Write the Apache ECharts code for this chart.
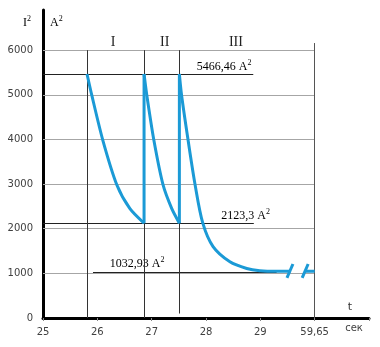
<!DOCTYPE html>
<html>
<head>
<meta charset="utf-8">
<script src="https://cdn.jsdelivr.net/npm/echarts@6/dist/echarts.min.js"></script>
<style>
html, body { margin: 0; padding: 0; background: #fff; }
#chart { width: 380px; height: 347px; }
</style>
</head>
<body>
<div id="chart"></div>
<script>
// Time axis: positions 25..29 are seconds, position 30 stands for 59,65 s
const tickValues = [25, 26, 27, 28, 29, 30];
const tickLabels = ['25', '26', '27', '28', '29', '59,65'];
const gridLevels = [1000, 2000, 3000, 4000, 5000, 6000];

// Reference levels of I², A²
const peakLevel = 5466.46;
const troughLevel = 2123.3;
const steadyLevel = 1032.93;
const peakText = '5466,46';
const troughText = '2123,3';
const steadyText = '1032,93';

// Stage boundaries (s) and names
const stageBounds = [25.81, 26.86, 27.51, 30];
const stageNames = ['I', 'II', 'III'];
const stageNamePos = [26.29, 27.24, 28.55];

// Decay curves, [t, I²]
const stage1 = [[25.81, 5466.46], [25.9, 4980], [26.1, 3987], [26.36, 2980], [26.6, 2450], [26.86, 2123.3]];
const stage2 = [[26.86, 5466.46], [26.91, 4996], [27.04, 3987], [27.21, 2980], [27.37, 2450], [27.51, 2123.3]];
const stage3 = [[27.51, 5466.46], [27.55, 4996], [27.67, 3987], [27.8, 2980], [27.94, 2130], [28.13, 1600], [28.44, 1260], [28.75, 1110], [28.99, 1060], [29.3, 1046], [29.55, 1046]];
const tail = [[29.82, 1046], [30, 1046]];
// Jumps back to peak at the start of stages II and III
const jump1 = [[26.86, 2123.3], [26.86, 5466.46]];
const jump2 = [[27.51, 2123.3], [27.51, 5466.46]];
// Axis-break marks on the curve
const break1 = [[29.49, 900], [29.6, 1210]];
const break2 = [[29.77, 900], [29.88, 1210]];

const curveColor = '#1b9ad6';
const serif = '"Liberation Serif", "DejaVu Serif", serif';
const sans = '"DejaVu Sans", "Liberation Sans", sans-serif';

function seg(a, b, color, width) {
  return [{ coord: a, lineStyle: { color: color, width: width, type: 'solid' } }, { coord: b }];
}

const markSegments = [];
gridLevels.forEach(v => markSegments.push(seg([25, v], [30, v], '#a6a6a6', 1)));
markSegments.push(seg([25, peakLevel], [28.87, peakLevel], '#222', 1));
markSegments.push(seg([25, troughLevel], [28.88, troughLevel], '#222', 1));
markSegments.push(seg([25.92, steadyLevel], [29.3, steadyLevel], '#222', 1));
markSegments.push(seg([stageBounds[0], 0], [stageBounds[0], 6000], '#333', 1));
markSegments.push(seg([stageBounds[1], 0], [stageBounds[1], 6000], '#333', 1));
markSegments.push(seg([stageBounds[2], 100], [stageBounds[2], 6000], '#333', 1));
markSegments.push(seg([stageBounds[3], 0], [stageBounds[3], 6160], '#555', 1));

function curve(data, smooth) {
  return {
    type: 'line', data: data, symbol: 'none', smooth: smooth || false,
    silent: true,
    lineStyle: { color: curveColor, width: 3 }, z: 5
  };
}

const chart = echarts.init(document.getElementById('chart'), null, { renderer: 'canvas' });
chart.setOption({
  animation: false,
  grid: { left: 43, right: 11, top: 10, bottom: 29, containLabel: false },
  xAxis: {
    type: 'value', min: 25, max: 31, interval: 1,
    axisLine: { lineStyle: { color: '#000', width: 3 } },
    axisTick: { show: true, length: 3, lineStyle: { color: '#888', width: 1 } },
    splitLine: { show: false },
    axisLabel: {
      margin: 9, color: '#404040', fontFamily: sans, fontSize: 10,
      formatter: v => { const i = tickValues.indexOf(v); return i >= 0 ? tickLabels[i] : ''; }
    }
  },
  yAxis: {
    type: 'value', min: 0, max: 6900, interval: 1000,
    axisLine: { show: true, lineStyle: { color: '#000', width: 3 } },
    axisTick: { show: false },
    splitLine: { show: false },
    axisLabel: {
      margin: 10, color: '#404040', fontFamily: sans, fontSize: 10,
      formatter: v => (v % 1000 === 0 && v <= 6000) ? String(v) : ''
    }
  },
  series: [
    Object.assign(curve(stage1, 0.25), {
      markLine: { silent: true, symbol: ['none', 'none'], label: { show: false }, emphasis: { disabled: true }, data: markSegments, z: 2 }
    }),
    curve(stage2, 0.25),
    curve(stage3, 0.3),
    curve(tail),
    curve(jump1),
    curve(jump2),
    curve(break1),
    curve(break2)
  ]
});

// Text placed through the axes' own scales
function px(t, v) { return chart.convertToPixel({ gridIndex: 0 }, [t, v]); }

const rich = {
  n: { fontFamily: serif, fontSize: 12, color: '#222', lineHeight: 14, verticalAlign: 'bottom' },
  s: { fontFamily: serif, fontSize: 8, color: '#222', lineHeight: 14, verticalAlign: 'top' }
};

function levelLabel(t, v, txt, dy) {
  const p = px(t, v);
  return {
    type: 'text', x: p[0], y: p[1] - dy,
    style: { text: '{n|' + txt + ' A}{s|2}', rich: rich, verticalAlign: 'middle', align: 'left' }
  };
}

const graphics = [
  levelLabel(27.83, peakLevel, peakText, 8),
  levelLabel(28.28, troughLevel, troughText, 8),
  levelLabel(26.23, steadyLevel, steadyText, 9)
];
stageNames.forEach((name, i) => {
  const p = px(stageNamePos[i], 6180);
  graphics.push({ type: 'text', x: p[0], y: p[1], style: { text: name, font: '14px ' + serif, fill: '#222', align: 'center', verticalAlign: 'middle' } });
});
graphics.push({ type: 'text', x: 23, y: 22, style: { text: '{n|I}{s|2}', rich: rich, verticalAlign: 'middle' } });
graphics.push({ type: 'text', x: 50, y: 22, style: { text: '{n|A}{s|2}', rich: rich, verticalAlign: 'middle' } });
graphics.push({ type: 'text', x: 350, y: 307, style: { text: 't', font: '11px ' + sans, fill: '#333', align: 'center', verticalAlign: 'middle' } });
graphics.push({ type: 'text', x: 354, y: 328, style: { text: 'сек', font: '10px ' + sans, fill: '#404040', align: 'center', verticalAlign: 'middle' } });

chart.setOption({ graphic: graphics });
</script>
</body>
</html>
